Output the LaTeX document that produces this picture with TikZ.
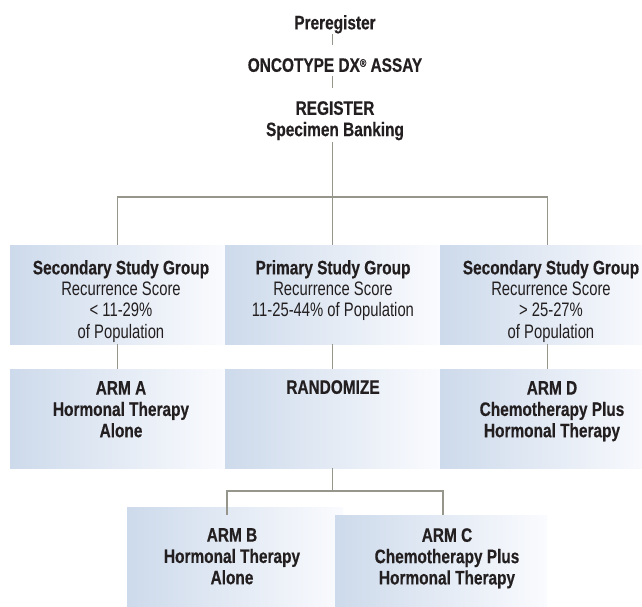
\documentclass[tikz,border=0pt]{standalone}
\usepackage{fontspec}
\setmainfont{Liberation Sans}[FakeStretch=0.76,BoldFeatures={FakeStretch=0.79,FakeBold=0.4}]
\usetikzlibrary{calc}
\definecolor{boxblue}{RGB}{205,218,235}
\definecolor{boxwhite}{RGB}{250,251,254}
\definecolor{ink}{RGB}{35,31,32}
\definecolor{wire}{RGB}{150,150,140}
\tikzset{
  panel/.style={draw=none, inner sep=0pt, left color=boxblue, right color=boxwhite,
    minimum width=215pt, minimum height=99pt},
  label/.style={inner sep=0pt, align=center, text=ink, anchor=north,
    font=\fontsize{19.5}{21.3}\selectfont},
  conn/.style={draw=wire, line width=1.2pt},
}
\begin{document}
\begin{tikzpicture}[x=1pt, y=-1pt]
\useasboundingbox (0,0) rectangle (642,607);
\begin{scope}
\clip (0,0) rectangle (642,607);
% enrolment steps
\node[label] (pre)  at (335,15) {\bfseries Preregister};
\node[label] (onco) at (335,58) {\bfseries ONCOTYPE DX{\fontsize{11}{11}\selectfont\raisebox{5pt}{®}} ASSAY};
\node[label] (reg)  at (335,101) {\bfseries REGISTER\\\bfseries Specimen Banking};

% study groups
\node[panel] (grpA) at (117.5,294.5) {};
\node[panel] (grpM) at (332.5,294.5) {};
\node[panel] (grpD) at (547.5,294.5) {};
\node[label] (tA) at (121,260) {\bfseries Secondary Study Group\\Recurrence Score\\< 11-29\%\\of Population};
\node[label] (tM) at (333,260) {\bfseries Primary Study Group\\Recurrence Score\\11-25-44\% of Population};
\node[label] (tD) at (551,260) {\bfseries Secondary Study Group\\Recurrence Score\\> 25-27\%\\of Population};

% treatment arms
\node[panel] (armA) at (117.5,418.5) {};
\node[panel] (rand) at (332.5,418.5) {};
\node[panel] (armD) at (547.5,418.5) {};
\node[label] (tArmA) at (121,381) {\bfseries ARM A\\\bfseries Hormonal Therapy\\\bfseries Alone};
\node[label] (tRand) at (333,380) {\bfseries RANDOMIZE};
\node[label] (tArmD) at (552,381) {\bfseries ARM D\\\bfseries Chemotherapy Plus\\\bfseries Hormonal Therapy};

\node[panel, minimum width=216pt, minimum height=99pt] (armB) at (235,556.5) {};
\node[panel, minimum width=212pt, minimum height=92pt] (armC) at (441,561) {};
\node[label] (tArmB) at (232,528) {\bfseries ARM B\\\bfseries Hormonal Therapy\\\bfseries Alone};
\node[label] (tArmC) at (447,528) {\bfseries ARM C\\\bfseries Chemotherapy Plus\\\bfseries Hormonal Therapy};

% connectors
\coordinate (fork) at (333,197);
\coordinate (lowfork) at (334,491);
\draw[conn, shorten <=0.5pt, shorten >=13pt] (grpM.north |- pre.south) -- (grpM.north |- onco.north);
\draw[conn, shorten <=3.5pt, shorten >=13pt] (grpM.north |- onco.south) -- (grpM.north |- reg.north);
\draw[conn, shorten <=1.5pt] (grpM.north |- reg.south) -- (grpM.north);
\draw[conn] (grpA.north) -- (grpA.north |- fork) -- (grpD.north |- fork) -- (grpD.north);
\draw[conn] (grpA.south) -- (armA.north);
\draw[conn] (grpM.south) -- (rand.north);
\draw[conn] (grpD.south) -- (armD.north);
\draw[conn] (rand.south) -- (rand.south |- lowfork);
\draw[conn] ([shift={(-8,8)}]armB.north) |- (lowfork) -| ([xshift=2pt]armC.north);
\end{scope}
\end{tikzpicture}
\end{document}
